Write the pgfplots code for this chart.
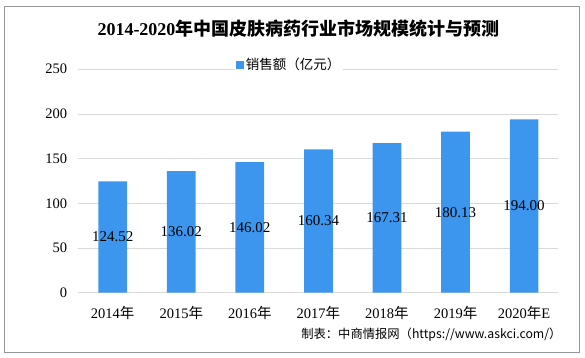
\documentclass[border=0pt]{standalone}
\usepackage{fontspec}
\setmainfont{Liberation Serif}
\newfontfamily\cjk{Noto Sans CJK SC}
\usepackage{pgfplots}
\pgfplotsset{compat=1.18}
\definecolor{barblue}{RGB}{61,150,238}
\definecolor{gridgray}{RGB}{217,217,217}
\definecolor{framegray}{RGB}{150,150,150}
\begin{document}
\begin{tikzpicture}[x=1pt,y=1pt]
\path[use as bounding box] (0,0) rectangle (585,357);
\draw[framegray, line width=0.8pt] (4,5) rectangle (579,351);
\node[font=\fontsize{18}{21}\selectfont\bfseries] at (298.5,328) {2014-2020{\cjk 年中国皮肤病药行业市场规模统计与预测}};
\node[anchor=east, font=\cjk\fontsize{12.3}{14}\selectfont] at (565,22) {制表：中商情报网（https://www.askci.com/）};
\begin{axis}[
  at={(78.4pt,64.3pt)}, anchor=south west,
  scale only axis, width=480pt, height=223.5pt,
  xmin=-0.5, xmax=6.5, ymin=0, ymax=250,
  ytick={0,50,...,250},
  xtick={0,...,6},
  xticklabels={2014{\cjk 年},2015{\cjk 年},2016{\cjk 年},2017{\cjk 年},2018{\cjk 年},2019{\cjk 年},2020{\cjk 年}E},
  axis line style={draw=none},
  major tick length=0pt,
  ymajorgrids, grid style={gridgray, line width=0.8pt},
  /pgf/number format/assume math mode=true,
  tick label style={font=\fontsize{14.5}{16}\selectfont},
  yticklabel style={anchor=east, inner sep=0pt, xshift=-11pt},
  xticklabel style={anchor=center, inner sep=0pt, yshift=-20pt},
  legend style={at={(axis description cs:0.439,1.019)}, anchor=center, draw=none, fill=white,
    font=\cjk\fontsize{13.5}{15}\selectfont, inner sep=1pt, nodes={inner xsep=1.5pt}},
  ybar, bar width=28.7pt,
  visualization depends on=rawy \as \rawy,
  nodes near coords={\pgfmathprintnumber[fixed,fixed zerofill,precision=2]{\pgfplotspointmeta}},
  every node near coord/.append style={font=\fontsize{15}{17}\selectfont, text=black, anchor=center,
    shift={(axis direction cs:0,-\rawy/2)}},
]
\addplot[fill=barblue, draw=none,
  legend image code/.code={\fill[barblue] (0pt,-3.9pt) rectangle (7.8pt,3.9pt);}]
  coordinates {(0,124.52) (1,136.02) (2,146.02) (3,160.34) (4,167.31) (5,180.13) (6,194.00)};
\addlegendentry{销售额（亿元）}
\end{axis}
\end{tikzpicture}
\end{document}
